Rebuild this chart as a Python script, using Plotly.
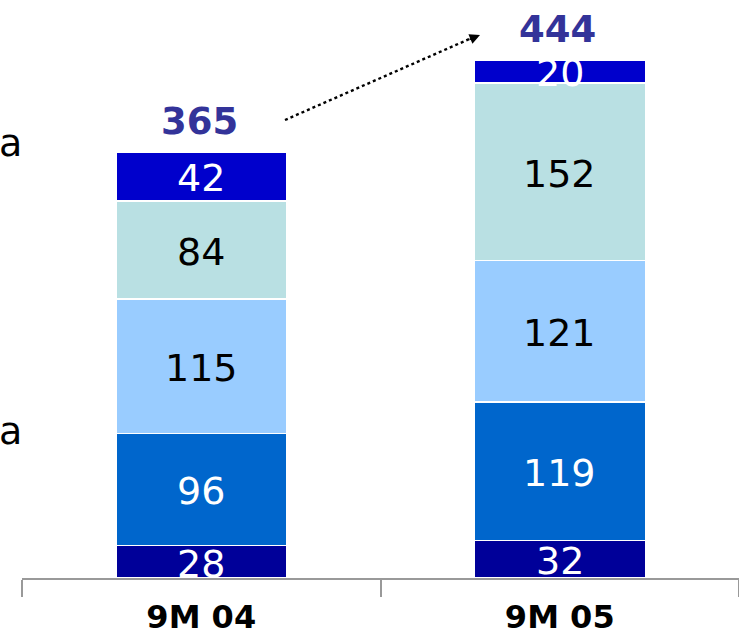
import plotly.graph_objects as go
import numpy as np

categories = ["9M 04", "9M 05"]

# stacked segments, bottom to top
series_values = [
    [28, 32],
    [96, 119],
    [115, 121],
    [84, 152],
    [42, 20],
]
series_colors = ["#000099", "#0066CC", "#99CCFF", "#B9E0E3", "#0000CC"]
label_colors = ["white", "white", "black", "black", "white"]
totals = [365, 444]

FONT = "DejaVu Sans"
fig = go.Figure()

for vals, col in zip(series_values, series_colors):
    fig.add_trace(go.Bar(
        x=categories, y=vals, marker_color=col,
        marker_line_color="white", marker_line_width=1.5,
        width=0.477, showlegend=False, hoverinfo="skip",
    ))

annotations = []
cum = np.zeros(len(categories))
for vals, tcol in zip(series_values, label_colors):
    vals = np.array(vals, dtype=float)
    mids = cum + vals / 2
    for cat, v, m in zip(categories, vals, mids):
        annotations.append(dict(
            x=cat, y=m, xref="x", yref="y", text=str(int(v)), showarrow=False,
            font=dict(family=FONT, size=38, color=tcol), yanchor="middle",
            yshift=-2,
        ))
    cum += vals

for cat, tot in zip(categories, totals):
    annotations.append(dict(
        x=cat, y=tot, xref="x", yref="y", text=f"<b>{tot}</b>", showarrow=False,
        font=dict(family=FONT, size=37, color="#333399"),
        yanchor="bottom", yshift=7, xshift=-2,
    ))

# partially visible row labels at the left edge
for yp in [0.753, 0.255]:
    annotations.append(dict(
        x=0.0, y=yp, xref="paper", yref="paper", text="a", showarrow=False,
        xanchor="right", yanchor="middle", xshift=2,
        font=dict(family=FONT, size=38, color="black"),
    ))

# growth arrow head
annotations.append(dict(
    x=0.6388, y=0.9394, xref="paper", yref="paper", text="", showarrow=True,
    ax=-12, ay=5, arrowhead=2, arrowsize=1.3, arrowwidth=1.6,
    arrowcolor="black", standoff=0,
))

fig.add_shape(type="line", xref="paper", yref="paper",
              x0=0.3668, y0=0.7924, x1=0.628, y1=0.9347,
              line=dict(color="black", width=2.4, dash="dot"))

fig.update_layout(
    width=739, height=636,
    margin=dict(l=22, r=0, t=0, b=58),
    barmode="stack",
    plot_bgcolor="white", paper_bgcolor="white",
    annotations=annotations,
    xaxis=dict(
        range=[-0.5, 1.5], showline=True, linecolor="#999999", linewidth=2,
        ticks="outside", tickson="boundaries", ticklen=17, tickwidth=2,
        tickcolor="#999999", showgrid=False, zeroline=False,
        tickfont=dict(family=FONT, size=32, color="black"),
        tickprefix="<b>", ticksuffix="</b>", ticklabelstandoff=10,
    ),
    yaxis=dict(range=[0, 495.2], visible=False),
)

fig.write_html("out.html")
